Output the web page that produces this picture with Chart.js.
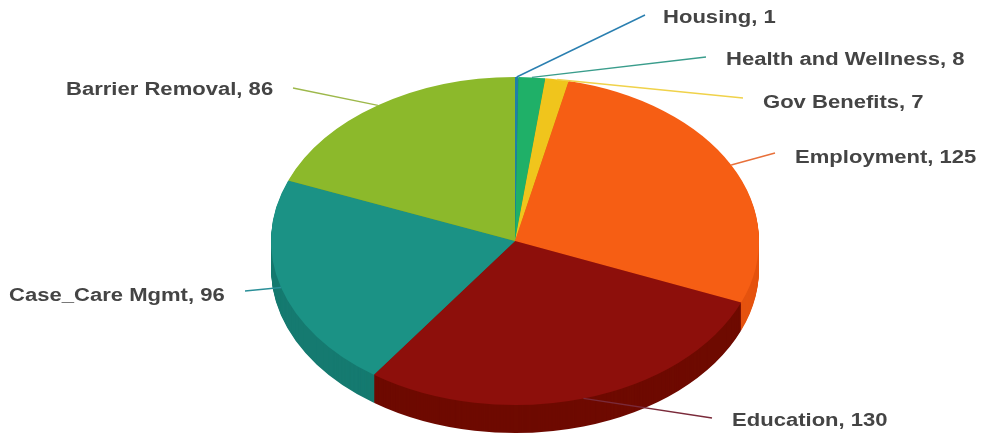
<!DOCTYPE html>
<html>
<head>
<meta charset="utf-8">
<style>
  html, body { margin: 0; background: #fff; }
  canvas { display: block; filter: blur(0.5px); }
</style>
<script src="https://cdn.jsdelivr.net/npm/chart.js@4"></script>
</head>
<body>
<canvas id="pie3d" width="985" height="435"></canvas>
<script>
const categories = ["Housing", "Health and Wellness", "Gov Benefits", "Employment", "Education", "Case_Care Mgmt", "Barrier Removal"];
const counts = [1, 8, 7, 125, 130, 96, 86];
const topColors = ["#1f7fa8", "#1fb068", "#f0c51c", "#f65e14", "#8d0f0b", "#1b9285", "#8cb92b"];
const sideColors = ["#17607f", "#17855a", "#c9a414", "#e5530f", "#6e0a00", "#157a70", "#6f9420"];
const lineColors = ["#2a7fb0", "#3a9d8c", "#f0d24a", "#e8703a", "#7a2a3a", "#2a8f98", "#9db84a"];

// where the leader lines end and the text starts (elbow x, elbow y, text x, text y)
const labelSpots = [
    [645, 15, 663, 18],
    [706, 57, 726, 60],
    [743, 98, 763, 103],
    [775, 153, 795, 158],
    [712, 418, 732, 421],
    [245, 291, 9, 296],
    [293, 88, 66, 90],
];

const rx = 244;
const ry = 164;
const depth = 28;
const textStretch = 1.225; // the picture's text is wider than the font

function squash(chart, ctx) {
    const arc = chart.getDatasetMeta(0).data[0];
    ctx.translate(arc.x, arc.y);
    ctx.scale(rx / arc.outerRadius, ry / arc.outerRadius);
    ctx.translate(-arc.x, -arc.y);
}

const pie3d = {
    id: "pie3d",
    beforeDatasetsDraw(chart) {
        const ctx = chart.ctx;
        const arcs = chart.getDatasetMeta(0).data;
        // side wall, stacked copies of the slices going down
        for (let d = depth; d > 0; d--) {
            ctx.save();
            ctx.translate(0, d);
            squash(chart, ctx);
            arcs.forEach((arc, i) => {
                const opts = arc.options;
                arc.options = Object.assign({}, opts, { backgroundColor: sideColors[i] });
                arc.draw(ctx);
                arc.options = opts;
            });
            ctx.restore();
        }
        ctx.save();
        squash(chart, ctx);
    },
    afterDatasetsDraw(chart) {
        const ctx = chart.ctx;
        ctx.restore();
        const arcs = chart.getDatasetMeta(0).data;
        arcs.forEach((arc, i) => {
            const mid = (arc.startAngle + arc.endAngle) / 2;
            const px = arc.x + rx * Math.cos(mid);
            const py = arc.y + ry * Math.sin(mid);
            const spot = labelSpots[i];
            ctx.beginPath();
            ctx.moveTo(px, py);
            ctx.lineTo(spot[0], spot[1]);
            ctx.strokeStyle = lineColors[i];
            ctx.lineWidth = 1.4;
            ctx.stroke();
            ctx.save();
            ctx.translate(spot[2], spot[3]);
            ctx.scale(textStretch, 1);
            ctx.font = "bold 18px 'Liberation Sans'";
            ctx.fillStyle = "#444444";
            ctx.textAlign = "left";
            ctx.textBaseline = "middle";
            ctx.fillText(categories[i] + ", " + counts[i], 0, 0);
            ctx.restore();
        });
    },
};

new Chart(document.getElementById("pie3d"), {
    type: "pie",
    data: {
        labels: categories,
        datasets: [{
            data: counts,
            backgroundColor: topColors,
            borderWidth: 0,
            clip: false,
        }],
    },
    options: {
        responsive: false,
        animation: false,
        layout: { padding: { left: 321, right: 276, top: 47, bottom: 0 } },
        plugins: { legend: { display: false }, tooltip: { enabled: false } },
    },
    plugins: [pie3d],
});
</script>
</body>
</html>
